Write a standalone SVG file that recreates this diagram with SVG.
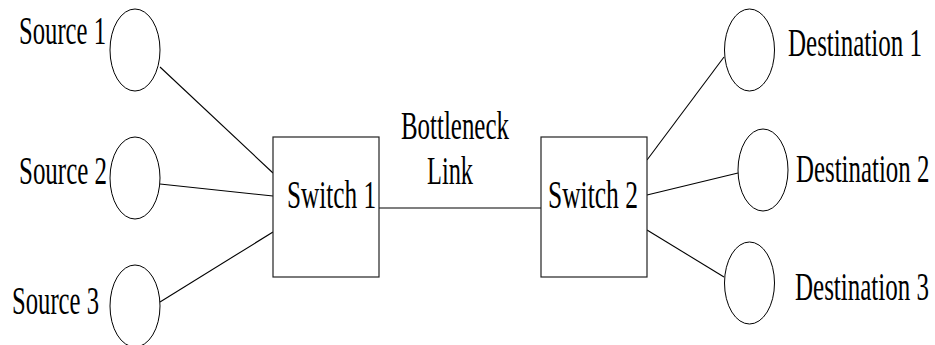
<svg xmlns="http://www.w3.org/2000/svg" width="935" height="345" viewBox="0 0 935 345">
<style>
.n{fill:none;stroke:#000;stroke-width:1}
.b{fill:#fff;stroke:#222;stroke-width:1.2}
.c{stroke:#000;stroke-width:1.1;fill:none}
text{font-family:"Liberation Serif","Times New Roman",serif;font-size:40px;fill:#000}
</style>
<rect width="935" height="345" fill="#fff"/>
<g id="connectors">
<line class="c" x1="160" y1="67" x2="273" y2="173"/>
<line class="c" x1="160" y1="184" x2="273" y2="196"/>
<line class="c" x1="160" y1="302" x2="273" y2="232"/>
<line class="c" x1="379" y1="208" x2="541" y2="208"/>
<line class="c" x1="647" y1="160" x2="724" y2="57"/>
<line class="c" x1="647" y1="195" x2="738" y2="173"/>
<line class="c" x1="647" y1="230" x2="724" y2="277"/>
</g>
<g id="source1"><ellipse class="n" cx="135" cy="50" rx="25" ry="41"/><text transform="translate(19,44) scale(0.617,1)">Source 1</text></g>
<g id="source2"><ellipse class="n" cx="135" cy="178" rx="25" ry="41"/><text transform="translate(19,184) scale(0.624,1)">Source 2</text></g>
<g id="source3"><ellipse class="n" cx="135" cy="306" rx="25" ry="41"/><text transform="translate(12,314) scale(0.617,1)">Source 3</text></g>
<g id="switch1"><rect class="b" x="273" y="137" width="106" height="140"/><text transform="translate(287,208) scale(0.631,1)">Switch 1</text></g>
<g id="switch2"><rect class="b" x="541" y="137" width="106" height="140"/><text transform="translate(548,208) scale(0.638,1)">Switch 2</text></g>
<g id="link-label"><text transform="translate(401,139) scale(0.623,1)">Bottleneck</text><text transform="translate(427,184) scale(0.609,1)">Link</text></g>
<g id="dest1"><ellipse class="n" cx="749.5" cy="50" rx="25" ry="41"/><text transform="translate(788,56) scale(0.625,1)">Destination 1</text></g>
<g id="dest2"><ellipse class="n" cx="763" cy="170" rx="25" ry="41"/><text transform="translate(796,182) scale(0.622,1)">Destination 2</text></g>
<g id="dest3"><ellipse class="n" cx="749.5" cy="283" rx="25" ry="41"/><text transform="translate(795,300) scale(0.625,1)">Destination 3</text></g>
</svg>
